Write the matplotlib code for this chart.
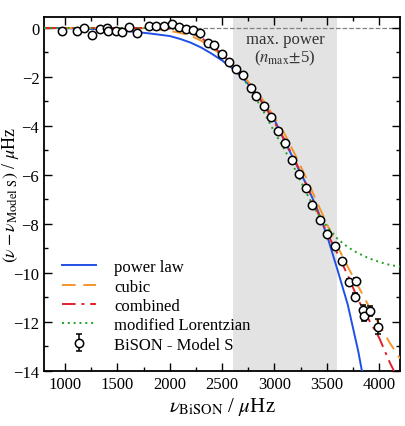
import matplotlib.pyplot as plt
import numpy as np

plt.rcParams['font.family'] = ['Liberation Serif', 'DejaVu Serif']
plt.rcParams['mathtext.fontset'] = 'stix'

# BiSON - Model S frequency differences
nu_obs = [970, 1114, 1178, 1258, 1329, 1402, 1411, 1482, 1546, 1610, 1689, 1802,
          1866, 1945, 2019, 2089, 2153, 2217, 2288, 2361, 2425, 2498, 2569, 2633,
          2696, 2777, 2825, 2904, 2970, 3032, 3100, 3168, 3230, 3304, 3360, 3438,
          3504, 3575, 3642, 3711, 3777, 3767, 3841, 3853, 3911, 3990]
dnu_obs = [-0.12, -0.12, 0.0, -0.27, -0.06, 0.0, -0.12, -0.12, -0.16, 0.03, -0.19, 0.08,
           0.08, 0.08, 0.18, 0.04, -0.03, -0.07, -0.2, -0.61, -0.71, -1.05, -1.39, -1.66,
           -1.9, -2.45, -2.78, -3.19, -3.64, -4.21, -4.70, -5.40, -5.98, -6.54, -7.23, -7.82,
           -8.42, -8.89, -9.5, -10.35, -10.34, -10.97, -11.5, -11.75, -11.57, -12.19]
err_obs = [0.03] * 36 + [0.05, 0.06, 0.08, 0.1, 0.12, 0.15, 0.18, 0.2, 0.2, 0.3]

# fitted corrections
nu_fit = [800, 1000, 1200, 1400, 1600, 1800, 2000, 2100, 2200, 2300, 2400, 2500, 2600, 2700,
          2800, 2900, 3000, 3100, 3200, 3300, 3400, 3500, 3600, 3700, 3800, 3900, 4000,
          4100, 4200]
power_law = [0.0, -0.01, -0.03, -0.07, -0.13, -0.22, -0.33, -0.45, -0.6, -0.8, -1.05, -1.33,
             -1.65, -2.05, -2.55, -3.1, -3.75, -4.65, -5.5, -6.35, -7.3, -8.45, -9.85, -11.3,
             -13.2, -15.5, -18.0, -20.5, -23.0]
cubic = [0.0, 0.0, 0.0, 0.0, 0.0, -0.03, -0.12, -0.2, -0.32, -0.52, -0.8, -1.12,
         -1.5, -1.95, -2.45, -3.0, -3.65, -4.35, -5.2, -6.1, -7.05, -8.0, -8.9, -9.75,
         -10.55, -11.35, -12.1, -12.85, -13.5]
combined = [0.0, 0.0, 0.0, 0.0, 0.0, 0.0, -0.03, -0.08, -0.2, -0.4, -0.72, -1.07,
            -1.5, -1.97, -2.55, -3.15, -3.85, -4.6, -5.45, -6.35, -7.4, -8.35, -9.2, -10.1,
            -11.1, -11.9, -12.65, -13.65, -14.5]
lorentzian = [0.0, 0.0, 0.0, 0.0, 0.0, 0.0, -0.02, -0.06, -0.15, -0.42, -0.78, -1.1,
              -1.5, -2.05, -2.7, -3.45, -4.25, -5.0, -5.8, -6.7, -7.5, -8.1, -8.6, -8.95,
              -9.2, -9.4, -9.55, -9.67, -9.75]

fig, ax = plt.subplots(figsize=(4.05, 4.27), dpi=100)
fig.subplots_adjust(left=0.109, right=0.988, bottom=0.129, top=0.958)

ax.axvspan(2600, 3600, color='#e3e3e3', zorder=0, lw=0)
ax.axhline(0, color='gray', ls='--', lw=0.9, zorder=1)

ax.plot(nu_fit, power_law, color='#1f50e6', lw=1.4, label='power law', zorder=3)
ax.plot(nu_fit, cubic, color='#f5962d', lw=1.4, ls=(0, (7, 4)), label='cubic', zorder=3)
ax.plot(nu_fit, combined, color='#e3202c', lw=1.4, ls=(0, (7, 3, 1.5, 3)), label='combined', zorder=3)
ax.plot(nu_fit, lorentzian, color='#22a022', lw=1.4, ls=(0, (1, 2)), label='modified Lorentzian', zorder=3)
ax.errorbar(nu_obs, dnu_obs, yerr=err_obs, fmt='o', mfc='white', mec='black', ms=6,
            mew=1.1, ecolor='black', elinewidth=1.1, capsize=2.5, label='BiSON - Model S', zorder=4)

ax.text(3100, -0.45, 'max. power', ha='center', va='center', fontsize=12, color='#333333')
ax.text(3100, -1.2, r'($n_{\rm max}$$\pm$5)', ha='center', va='center', fontsize=12, color='#333333')

ax.set_xlim(800, 4200)
ax.set_ylim(-14, 0.45)
ax.set_xticks(np.arange(1000, 4001, 500))
ax.set_xticks(np.arange(1000, 4201, 250), minor=True)
ax.set_yticks(np.arange(-14, 0.1, 2))
ax.set_yticks(np.arange(-14, 0.1, 1), minor=True)
ax.tick_params(which='both', direction='in', top=True, right=True, labelsize=12)
ax.tick_params(which='major', length=6, width=1)
ax.tick_params(which='minor', length=3, width=1)
for s in ax.spines.values():
    s.set_linewidth(1.3)

ax.set_xlabel(r'$\nu_{\rm BiSON}$ / $\mu$Hz', fontsize=15, labelpad=2)
ax.set_ylabel(r'$(\nu - \nu_{\rm Model\ S})$ / $\mu$Hz', fontsize=13)
ax.yaxis.set_label_coords(-0.066, 0.5)

ax.legend(loc='lower left', frameon=False, fontsize=12, handlelength=2.0,
          labelspacing=0.2, borderaxespad=0.7, handletextpad=1.1)

plt.savefig('out.png', dpi=100)
